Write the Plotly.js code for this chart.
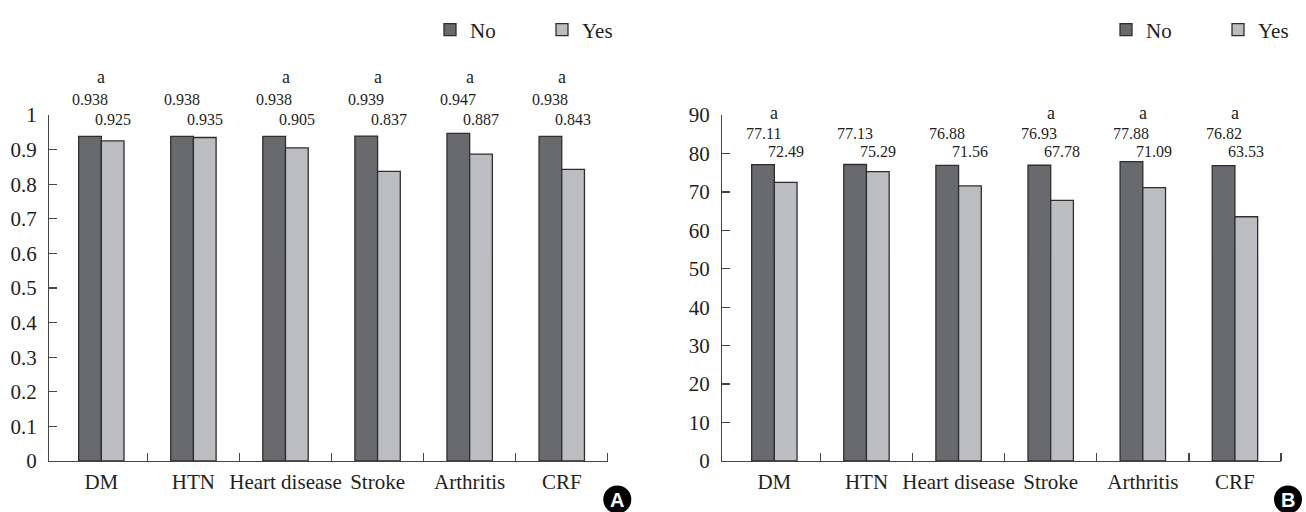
<!DOCTYPE html>
<html><head><meta charset="utf-8">
<script src="https://cdn.plot.ly/plotly-3.0.1.min.js"></script>
<style>html,body{margin:0;padding:0;background:#fff}#chart{width:1306px;height:512px}</style>
</head><body><div id="chart"></div>
<script>
// ---- data ----
const categories = ['DM', 'HTN', 'Heart disease', 'Stroke', 'Arthritis', 'CRF'];
const seriesNames = ['No', 'Yes'];
const utilityNo  = [0.938, 0.938, 0.938, 0.939, 0.947, 0.938];
const utilityYes = [0.925, 0.935, 0.905, 0.837, 0.887, 0.843];
const utilitySig = ['a', '', 'a', 'a', 'a', 'a'];
const vasNo  = [77.11, 77.13, 76.88, 76.93, 77.88, 76.82];
const vasYes = [72.49, 75.29, 71.56, 67.78, 71.09, 63.53];
const vasSig = ['a', '', '', 'a', 'a', 'a'];
const panelLetters = ['A', 'B'];

// ---- style ----
const W = 1306, H = 512;
const colNo = '#696a6e', colYes = '#bcbdc1', outline = '#2e2e2e', axisCol = '#454545';
const serif = '"Liberation Serif", "DejaVu Serif", serif';
const txt = '#231f20';
const idx = categories.map((c, i) => i);
const boundaries = categories.map((c, i) => i + 0.5);
const barHalf = 0.123;

function bar(name, y, color, xa, ya, legend) {
  return {type: 'bar', name: name, x: idx, y: y, xaxis: xa, yaxis: ya, legend: legend,
    marker: {color: color, line: {color: outline, width: 1.3}}, hoverinfo: 'skip'};
}
const traces = [
  bar(seriesNames[0], utilityNo, colNo, 'x', 'y', 'legend'),
  bar(seriesNames[1], utilityYes, colYes, 'x', 'y', 'legend'),
  bar(seriesNames[0], vasNo, colNo, 'x2', 'y2', 'legend2'),
  bar(seriesNames[1], vasYes, colYes, 'x2', 'y2', 'legend2')
];

function xaxis(domain, anchor) {
  return {domain: domain, anchor: anchor, range: [-0.565, 5.5], fixedrange: true,
    tickmode: 'array', tickvals: idx, ticktext: categories, ticks: '',
    tickfont: {family: serif, size: 21, color: txt}, ticklabelstandoff: 1,
    showline: true, linecolor: axisCol, linewidth: 1.3, showgrid: false, zeroline: false,
    minor: {tickmode: 'array', tickvals: boundaries, ticks: 'inside', ticklen: 8, tickwidth: 1.3, tickcolor: axisCol, showgrid: false}};
}
function yaxis(range, dtick, anchor) {
  return {domain: [0, 1], anchor: anchor, range: range, dtick: dtick, fixedrange: true,
    ticks: 'inside', ticklen: 8, tickwidth: 1.3, tickcolor: axisCol,
    tickfont: {family: serif, size: 21, color: txt}, ticklabelstandoff: 7,
    showline: true, linecolor: axisCol, linewidth: 1.3, showgrid: false, zeroline: false};
}

const plotTop = 115, plotBottom = 461;
const py = p => (plotBottom - p) / (plotBottom - plotTop);   // pixel row -> paper y

const annotations = [];
function labels(no, yes, sig, xref, yNo, yYes, ySig) {
  const base = {xref: xref, yref: 'paper', showarrow: false, xanchor: 'center', yanchor: 'middle'};
  categories.forEach((c, i) => {
    annotations.push(Object.assign({}, base, {x: i - barHalf, y: py(yNo), text: no[i],
      font: {family: serif, size: 16, color: txt}}));
    annotations.push(Object.assign({}, base, {x: i + barHalf, y: py(yYes), text: yes[i],
      font: {family: serif, size: 16, color: txt}}));
    if (sig[i]) annotations.push(Object.assign({}, base, {x: i, y: py(ySig), text: sig[i],
      font: {family: serif, size: 18, color: txt}}));
  });
}
labels(utilityNo.map(v => v.toFixed(3)), utilityYes.map(v => v.toFixed(3)), utilitySig, 'x', 100, 119.3, 76.7);
labels(vasNo.map(v => v.toFixed(2)), vasYes.map(v => v.toFixed(2)), vasSig, 'x2', 133.3, 151.7, 112.7);

const badgeX = [617.3 / W, 1288 / W];
const badgeY = py(499.5);
const shapes = badgeX.map(bx => ({type: 'circle', xref: 'paper', yref: 'paper', xsizemode: 'pixel', ysizemode: 'pixel',
  xanchor: bx, yanchor: badgeY, x0: -14, x1: 14, y0: -14, y1: 14, fillcolor: '#000', line: {width: 0}, layer: 'below'}));
badgeX.forEach((bx, k) => annotations.push({xref: 'paper', yref: 'paper', x: bx, y: badgeY, yanchor: 'middle', xanchor: 'center',
  text: '<b>' + panelLetters[k] + '</b>', showarrow: false, font: {family: '"Liberation Sans", Arial, sans-serif', size: 20, color: '#fff'}}));

const legendBase = {orientation: 'h', xanchor: 'left', yanchor: 'middle', y: py(30), bgcolor: 'rgba(0,0,0,0)',
  font: {family: serif, size: 21, color: txt}, traceorder: 'normal', entrywidth: 67, itemclick: false, itemdoubleclick: false};

const layout = {
  width: W, height: H, margin: {l: 0, r: 0, t: plotTop, b: H - plotBottom, autoexpand: false},
  paper_bgcolor: '#fff', plot_bgcolor: '#fff',
  barmode: 'group', bargap: 0.507, bargroupgap: 0,
  xaxis: xaxis([49.3 / W, 607.8 / W], 'y'),
  yaxis: yaxis([0, 1], 0.1, 'x'),
  xaxis2: xaxis([722.3 / W, 1281 / W], 'y2'),
  yaxis2: yaxis([0, 90], 10, 'x2'),
  legend: Object.assign({}, legendBase, {x: 430 / W}),
  legend2: Object.assign({}, legendBase, {x: 1106 / W}),
  annotations: annotations, shapes: shapes, showlegend: true
};
Plotly.newPlot('chart', traces, layout, {displayModeBar: false, staticPlot: true});
</script></body></html>
